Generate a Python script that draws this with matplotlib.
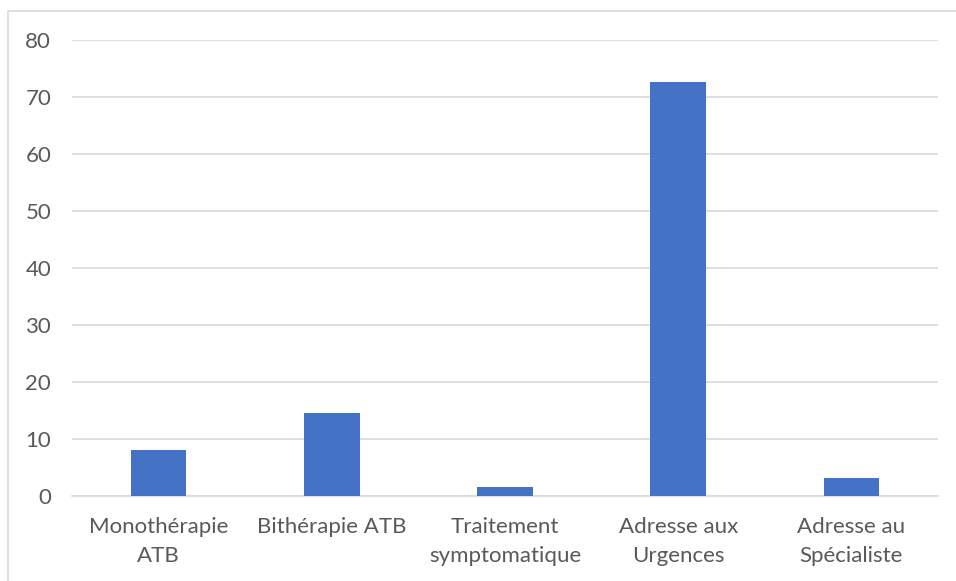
import matplotlib.pyplot as plt
from matplotlib.patches import Rectangle

categories = ["Monothérapie\nATB", "Bithérapie ATB", "Traitement\nsymptomatique",
              "Adresse aux\nUrgences", "Adresse au\nSpécialiste"]
values = [8.1, 14.5, 1.6, 72.6, 3.2]
yticks = [0, 10, 20, 30, 40, 50, 60, 70, 80]

plt.rcParams['font.family'] = ['Lato', 'DejaVu Sans']

fig = plt.figure(figsize=(9.56, 5.81), dpi=100)
ax = fig.add_axes([72 / 956, 85 / 581, 866 / 956, 456 / 581])

ax.bar(range(len(values)), values, width=0.32, color="#4472C4", zorder=3)
ax.set_xlim(-0.5, len(values) - 0.5)
ax.set_ylim(0, 80)
ax.set_yticks(yticks)
ax.set_xticks(range(len(categories)))
ax.set_xticklabels(categories, fontsize=16, color="#595959", linespacing=1.6)
ax.tick_params(axis="y", labelsize=16, labelcolor="#595959", length=0, pad=15)
ax.tick_params(axis="x", length=0, pad=15)
ax.grid(axis="y", color="#D9D9D9", linewidth=1.2, zorder=0)
for s in ["top", "right", "left"]:
    ax.spines[s].set_visible(False)
ax.spines["bottom"].set_color("#D9D9D9")
ax.spines["bottom"].set_linewidth(1.2)

# light frame around the chart area
fig.patches.append(Rectangle((8 / 956, -0.1), 1.0, 1.1 - 11 / 581,
                             transform=fig.transFigure, fill=False,
                             edgecolor="#D9D9D9", linewidth=1.2))

fig.savefig("out.png", dpi=100)
